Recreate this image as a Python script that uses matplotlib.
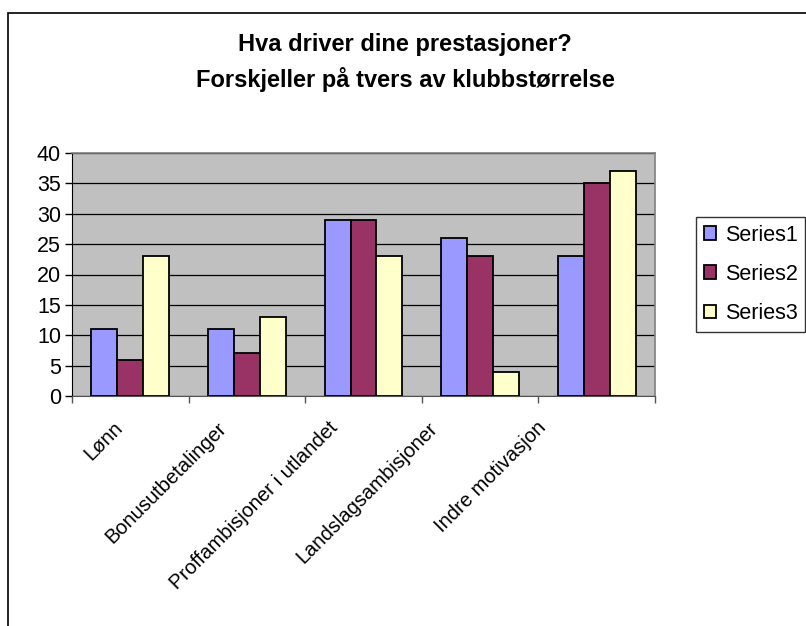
import numpy as np
import matplotlib.pyplot as plt
from matplotlib.patches import Rectangle
from matplotlib.ticker import FixedLocator
from matplotlib.transforms import ScaledTranslation

plt.rcParams['font.family'] = ['Liberation Sans', 'DejaVu Sans']

# ==========================
# DATA
# ==========================
categories = ["Lønn", "Bonusutbetalinger", "Proffambisjoner i utlandet",
              "Landslagsambisjoner", "Indre motivasjon"]
series1 = [11, 11, 29, 26, 23]
series2 = [6, 7, 29, 23, 35]
series3 = [23, 13, 23, 4, 37]
series_names = ["Series1", "Series2", "Series3"]
colors = ["#9999FF", "#993366", "#FFFFCC"]

W, H = 806, 626
fig = plt.figure(figsize=(W / 100, H / 100), dpi=100)

# outer chart frame
fig.patches.append(Rectangle((8 / W, 0 - 0.01), 1.0, 1 - 13 / H + 0.01,
                             transform=fig.transFigure, fill=False,
                             edgecolor="black", linewidth=1.2))

ax = fig.add_axes([72 / W, 1 - 396 / H, (655 - 72) / W, (396 - 153) / H])
ax.set_facecolor("#C0C0C0")

x = np.arange(len(categories))
bw = 1 / 4.5
for i, (vals, name, col) in enumerate(zip([series1, series2, series3], series_names, colors)):
    ax.bar(x + (i - 1) * bw, vals, width=bw, color=col, edgecolor="black",
           linewidth=1.3, label=name, zorder=3)

ax.set_xlim(-0.5, len(categories) - 0.5)
ax.set_ylim(0, 40)
ax.set_yticks(range(0, 41, 5))
ax.yaxis.grid(True, color="black", linewidth=0.9, zorder=1)
ax.set_axisbelow(True)
ax.tick_params(axis="y", labelsize=15.5, direction="out", length=5, width=1, pad=3)

ax.set_xticks(x)
ax.set_xticklabels(categories, rotation=45, ha="right", va="top",
                   rotation_mode="anchor", fontsize=14.5)
ax.tick_params(axis="x", length=0, pad=16)
ax.xaxis.set_minor_locator(FixedLocator(np.arange(-0.5, len(categories), 1)))
ax.tick_params(axis="x", which="minor", length=5, width=1, color="#555555")

# rotated labels drift left of their category, more so further right
shifts_px = [17, 30, 35, 52, 60]
for lab, dx in zip(ax.get_xticklabels(), shifts_px):
    lab.set_transform(lab.get_transform() + ScaledTranslation(-dx / 100, 0, fig.dpi_scale_trans))

for s in ["top", "right"]:
    ax.spines[s].set_color("#808080")
    ax.spines[s].set_linewidth(1.2)
ax.spines["left"].set_color("black")
ax.spines["bottom"].set_color("#555555")

fig.text(405 / W, 1 - 45 / H, "Hva driver dine prestasjoner?", ha="center",
         va="center", fontsize=17, fontweight="bold")
fig.text(405 / W, 1 - 80 / H, "Forskjeller på tvers av klubbstørrelse", ha="center",
         va="center", fontsize=17, fontweight="bold")

leg = ax.legend(loc="upper left", bbox_to_anchor=(696 / W, 1 - 217 / H),
                bbox_transform=fig.transFigure, fontsize=15.5, frameon=True,
                fancybox=False, edgecolor="black", handlelength=0.6,
                handleheight=0.6, handletextpad=0.4, labelspacing=0.85,
                borderpad=0.35, borderaxespad=0)
leg.get_frame().set_linewidth(1)

fig.savefig("out.png", dpi=100)
